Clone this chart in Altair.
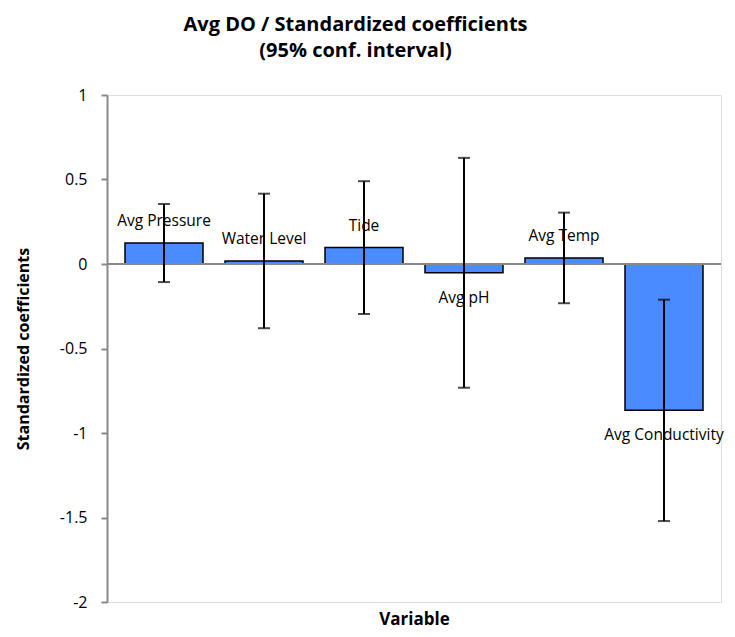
import altair as alt
import pandas as pd

variables = ["Avg Pressure", "Water Level", "Tide", "Avg pH", "Avg Temp", "Avg Conductivity"]
coef = [0.124, 0.018, 0.097, -0.052, 0.036, -0.866]
lower = [-0.107, -0.380, -0.296, -0.732, -0.232, -1.521]
upper = [0.355, 0.416, 0.490, 0.628, 0.304, -0.211]
y_ticks = [-2, -1.5, -1, -0.5, 0, 0.5, 1]

df = pd.DataFrame({"Variable": variables, "coef": coef, "lower": lower, "upper": upper})

FONT = "Open Sans"
x_enc = alt.X("Variable:N", sort=variables,
              scale=alt.Scale(paddingInner=0.22, paddingOuter=0.18),
              axis=alt.Axis(labels=False, ticks=False, domain=False, title="Variable",
                            titleFontSize=17, titleFont=FONT, titleFontWeight="bold",
                            titleBaseline="alphabetic", titlePadding=22,
                            titleColor="black"))
y_scale = alt.Scale(domain=[-2, 1], nice=False, zero=False)

base = alt.Chart(df)

bars = base.mark_bar(color="#4a8cff", stroke="black", strokeWidth=1.5).encode(
    x=x_enc,
    y=alt.Y("coef:Q", scale=y_scale,
            axis=alt.Axis(values=y_ticks, grid=False, title="Standardized coefficients",
                          titleFontSize=16, titleFont=FONT, titleFontWeight="bold",
                          titleColor="black", titlePadding=28,
                          labelFontSize=16, labelFont=FONT, labelColor="black",
                          labelPadding=14, tickSize=6, tickColor="#898989",
                          tickWidth=2, domainColor="#898989", domainWidth=2,
                          labelExpr="'' + datum.value")),
)

zero = alt.Chart(pd.DataFrame({"z": [0]})).mark_rule(color="#898989", strokeWidth=2).encode(
    y=alt.Y("z:Q", scale=y_scale)
)

err = base.mark_rule(color="black", strokeWidth=2).encode(
    x=alt.X("Variable:N", sort=variables),
    y=alt.Y("lower:Q", scale=y_scale),
    y2="upper:Q",
)
cap_lo = base.mark_tick(color="black", orient="horizontal", size=12, thickness=2).encode(
    x=alt.X("Variable:N", sort=variables),
    y=alt.Y("lower:Q", scale=y_scale),
)
cap_hi = base.mark_tick(color="black", orient="horizontal", size=12, thickness=2).encode(
    x=alt.X("Variable:N", sort=variables),
    y=alt.Y("upper:Q", scale=y_scale),
)

lab_pos = base.transform_filter("datum.coef >= 0").mark_text(
    font=FONT, fontSize=15.5, color="black", baseline="middle", dy=-22
).encode(x=alt.X("Variable:N", sort=variables), y=alt.Y("coef:Q", scale=y_scale), text="Variable:N")
lab_neg = base.transform_filter("datum.coef < 0").mark_text(
    font=FONT, fontSize=15.5, color="black", baseline="middle", dy=25
).encode(x=alt.X("Variable:N", sort=variables), y=alt.Y("coef:Q", scale=y_scale), text="Variable:N")

chart = alt.layer(bars, zero, err, cap_lo, cap_hi, lab_pos, lab_neg).properties(
    width=614, height=507,
    autosize=alt.AutoSizeParams(type="none"),
    padding={"left": 99, "top": 87, "right": 4, "bottom": 27},
    title=alt.TitleParams(
        text=["Avg DO / Standardized coefficients", "(95% conf. interval)"],
        font=FONT, fontSize=20, fontWeight="bold", color="black",
        lineHeight=26, anchor="middle", frame="bounds", offset=26, dx=-14,
    ),
).configure_view(stroke="#898989", strokeWidth=2).configure(background="white")

chart.save("out.html", embed_options={"renderer": "svg", "actions": False})
